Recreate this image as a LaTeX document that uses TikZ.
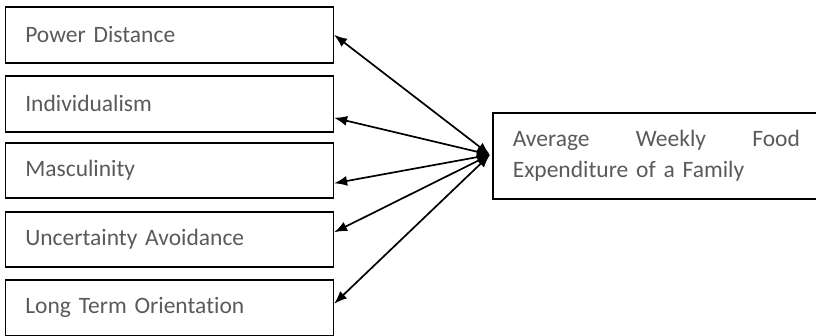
\documentclass[tikz,border=0pt]{standalone}
\usepackage{fontspec}
\setmainfont{Carlito}[Ligatures=CommonOff]
\usepackage{xcolor}
\usetikzlibrary{positioning,calc,arrows.meta}
\definecolor{txtgray}{HTML}{5A5A5A}
\tikzset{
  dimbox/.style={draw, line width=1.6pt, anchor=north west, minimum width=328pt,
    minimum height=56pt, inner xsep=20pt, text width=288pt, align=left,
    text=txtgray, font=\fontsize{23.5}{27}\selectfont},
  link/.style={{Latex[length=13pt,width=10pt]}-{Latex[length=13pt,width=10pt]}, line width=1.7pt}
}
\begin{document}
\begin{tikzpicture}[x=1pt,y=-1pt]
        \useasboundingbox (0,0) rectangle (816,336);

        \node[dimbox] (pd) at (4.5,6) {Power Distance};
        \node[dimbox] (ind) at (4.5,75) {Individualism};
        \node[dimbox, minimum height=55pt] (mas) at (4.5,142) {Masculinity};
        \node[dimbox, minimum height=55pt] (ua) at (4.5,211) {Uncertainty Avoidance};
        \node[dimbox] (lto) at (4.5,279) {Long Term Orientation};

        % box runs past the right border
        \node[dimbox, minimum height=86pt, text width=318pt,
              font=\fontsize{23.5}{31}\selectfont] (fe) at (492,112)
              {\parbox{287pt}{Average\hfill Weekly\hfill Food\\Expenditure of a Family}};

        \draw[link] (pd.east) -- ($(fe.west)+(-2,-1)$);
        \draw[link] ($(ind.east)+(0,14)$) -- ($(fe.west)+(-2,-1)$);
        \draw[link] ($(mas.east)+(0,13)$) -- ($(fe.west)+(-2,-1)$);
        \draw[link] ($(ua.east)+(0,-7)$) -- ($(fe.west)+(-2,-1)$);
        \draw[link] ($(lto.east)+(0,-4)$) -- ($(fe.west)+(-2,-1)$);
    \end{tikzpicture}
\end{document}
